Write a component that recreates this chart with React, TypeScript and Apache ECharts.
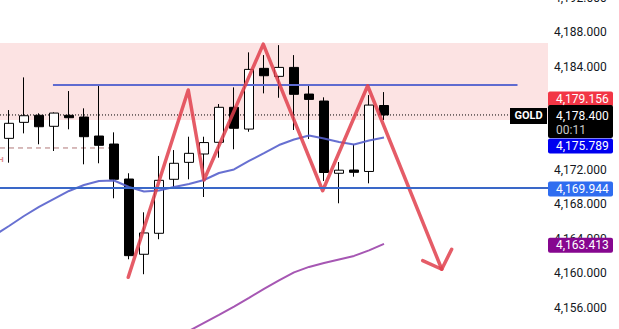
import React, { useEffect, useRef } from "react";
import * as echarts from "echarts";

// ---- data ----
const candleIdx = [0, 1, 2, 3, 4, 5, 6, 7, 8, 9, 10, 11, 12, 13, 14, 15, 16, 17, 18, 19, 20, 21, 22, 23, 24, 25];
const opens = [4175.68, 4177.54, 4178.36, 4177.08, 4178.36, 4178.16, 4175.95, 4175.02, 4170.95, 4162.2, 4164.64, 4170.92, 4172.89, 4173.86, 4175.22, 4179.29, 4176.76, 4183.82, 4182.89, 4183.93, 4180.83, 4180.02, 4171.62, 4172.0, 4171.83, 4179.5];
const closes = [4177.43, 4178.31, 4177.03, 4178.62, 4178.08, 4175.87, 4174.87, 4170.92, 4162.04, 4164.68, 4170.8, 4172.78, 4173.94, 4175.19, 4179.29, 4176.85, 4183.7, 4182.96, 4183.93, 4180.8, 4180.21, 4171.71, 4171.98, 4171.73, 4179.55, 4178.4];
const lows = [4172.85, 4176.26, 4174.99, 4174.21, 4176.73, 4172.66, 4172.78, 4168.71, 4161.62, 4159.88, 4163.95, 4169.94, 4170.92, 4168.86, 4173.43, 4174.41, 4176.45, 4180.91, 4180.4, 4176.65, 4175.6, 4170.72, 4168.13, 4171.22, 4170.45, 4177.81];
const highs = [4178.97, 4182.77, 4178.59, 4178.7, 4181.18, 4179.17, 4181.8, 4176.38, 4171.62, 4167.08, 4173.63, 4174.32, 4175.87, 4175.87, 4179.67, 4181.61, 4185.68, 4185.36, 4186.52, 4185.36, 4181.82, 4180.45, 4172.93, 4174.99, 4180.71, 4181.06];

const maFastIdx = [-1, 0, 1, 2, 3, 4, 5, 6, 7, 8, 9, 10, 11, 12, 13, 14, 15, 16, 17, 18, 19, 20, 21, 22, 23, 24, 25];
const maFast = [4164.38, 4165.49, 4166.65, 4167.7, 4168.63, 4169.56, 4170.26, 4170.72, 4170.78, 4170.02, 4169.5, 4169.62, 4170.02, 4170.37, 4170.84, 4171.65, 4172.06, 4173.05, 4173.97, 4174.9, 4175.54, 4176.01, 4175.66, 4175.25, 4174.96, 4175.43, 4175.789];

const maSlowIdx = [11, 12, 13, 14, 15, 16, 17, 18, 19, 20, 21, 22, 23, 24, 25];
const maSlow = [4152.36, 4153.29, 4154.22, 4155.15, 4156.12, 4157.13, 4158.17, 4159.16, 4160.09, 4160.73, 4161.19, 4161.6, 4162.01, 4162.65, 4163.413];

const zigzagIdx = [7.95, 11.95, 13.0, 16.95, 20.91, 23.91, 28.85];
const zigzagVal = [4159.53, 4181.3, 4170.84, 4186.64, 4169.59, 4181.8, 4160.46];
const arrowIdx = [27.58, 28.85, 29.51];
const arrowVal = [4161.46, 4160.46, 4162.79];

const resistanceIdx = [2.93, 33.9];
const resistanceVal = 4181.88;
const supportVal = 4169.944;
const zoneTop = 4186.76;
const zoneBottom = 4177.81;
const lastPrice = 4178.4;
const lastPriceEndIdx = 33.4;
const prevLevel = 4174.56;
const prevLevelEndIdx = 6.87;

const yTicks = [4152, 4156, 4160, 4164, 4168, 4172, 4176, 4180, 4184, 4188, 4192];
const hiddenTicks = [4152, 4176, 4180]; // covered by price tags / off-screen
const tagRed = 4179.156;
const tagBlue = 4175.789;
const tagSupport = 4169.944;
const tagPurple = 4163.413;
const symbolName = "GOLD";
const countdown = "00:11";

const X_MIN = -0.6;
const X_MAX = 35.933;

const fmt = (v: number) => {
  const s = v.toFixed(3);
  const [i, d] = s.split(".");
  return i.replace(/\B(?=(\d{3})+(?!\d))/g, ",") + "." + d;
};

const FONT = "Roboto, 'Noto Sans', sans-serif";

export default function App() {
  const ref = useRef<HTMLDivElement>(null);
  useEffect(() => {
    if (!ref.current) return;
    const chart = echarts.init(ref.current, undefined, { renderer: "svg" });
    const candles = candleIdx.map((x, k) => [x, opens[k], closes[k], lows[k], highs[k]]);
    const option: any = {
      animation: false,
      backgroundColor: "#ffffff",
      grid: { left: 0, right: 71, top: -2, bottom: -13, containLabel: false, outerBoundsMode: "none" },
      xAxis: { type: "value", min: X_MIN, max: X_MAX, show: false },
      yAxis: {
        type: "value",
        position: "right",
        min: yTicks[0],
        max: yTicks[yTicks.length - 1],
        interval: yTicks[1] - yTicks[0],
        axisLine: { show: false },
        axisTick: { show: false },
        splitLine: { show: false },
        axisLabel: {
          margin: 6,
          color: "#131722",
          fontSize: 12,
          fontFamily: FONT,
          formatter: (v: number) => (hiddenTicks.some((h) => Math.abs(h - v) < 1e-6) ? "" : fmt(v)),
        },
      },
      series: [
        {
          type: "line",
          z: 1,
          silent: true,
          symbol: "none",
          data: [[X_MIN, prevLevel], [prevLevelEndIdx, prevLevel]],
          lineStyle: { color: "#b07878", width: 1, type: [5, 4] },
          markArea: {
            silent: true,
            itemStyle: { color: "#fce3e3" },
            data: [[{ yAxis: zoneTop }, { yAxis: zoneBottom }]],
          },
        },
        {
          type: "line",
          z: 1,
          silent: true,
          symbol: "none",
          data: [[X_MIN, lastPrice], [lastPriceEndIdx, lastPrice]],
          lineStyle: { color: "#000000", width: 1, type: [1, 2] },
        },
        {
          type: "candlestick",
          z: 2,
          silent: true,
          barWidth: 10,
          data: candles,
          encode: { x: 0, y: [1, 2, 3, 4] },
          itemStyle: {
            color: "#ffffff",
            color0: "#000000",
            borderColor: "#000000",
            borderColor0: "#000000",
            borderWidth: 1,
          },
        },
        {
          type: "line",
          z: 3,
          silent: true,
          symbol: "none",
          data: maFastIdx.map((x, k) => [x, maFast[k]]),
          lineStyle: { color: "#5660cc", width: 2, opacity: 0.9 },
        },
        {
          type: "line",
          z: 3,
          silent: true,
          symbol: "none",
          data: maSlowIdx.map((x, k) => [x, maSlow[k]]),
          lineStyle: { color: "#a657b3", width: 2 },
        },
        {
          type: "line",
          z: 3,
          silent: true,
          symbol: "none",
          data: [[resistanceIdx[0], resistanceVal], [resistanceIdx[1], resistanceVal]],
          lineStyle: { color: "#5f6bd0", width: 2 },
          markLine: {
            silent: true,
            symbol: "none",
            label: { show: false },
            lineStyle: { color: "#3a68c8", width: 2, type: "solid" },
            data: [{ yAxis: supportVal }],
          },
        },
        {
          type: "line",
          z: 4,
          silent: true,
          symbol: "none",
          data: zigzagIdx.map((x, k) => [x, zigzagVal[k]]),
          lineStyle: { color: "#e0404c", width: 3.5, opacity: 0.85, cap: "round", join: "round" },
        },
        {
          type: "line",
          z: 4,
          silent: true,
          symbol: "none",
          data: arrowIdx.map((x, k) => [x, arrowVal[k]]),
          lineStyle: { color: "#e0404c", width: 3.5, opacity: 0.85, cap: "round", join: "round" },
        },
      ],
    };
    chart.setOption(option);
    const py = (v: number) => chart.convertToPixel({ yAxisIndex: 0 }, v) as number;
    const TAG_X = 548;
    const TAG_W = 65;
    const TAG_H = 15;
    const tag = (cy: number, fill: string, text: string) => [
      { type: "rect", z: 100, shape: { x: TAG_X, y: cy - TAG_H / 2, width: TAG_W, height: TAG_H, r: 2 }, style: { fill } },
      {
        type: "text",
        z: 101,
        x: 556,
        y: cy,
        style: { text, fill: "#ffffff", font: `12px ${FONT}`, verticalAlign: "middle" },
      },
    ];
    const yLast = py(lastPrice);
    const graphic: any[] = [
      ...tag(py(tagRed) - 9.4, "#f23645", fmt(tagRed)),
      { type: "rect", z: 100, shape: { x: TAG_X, y: yLast - 10, width: TAG_W, height: 33, r: 2 }, style: { fill: "#000000" } },
      { type: "text", z: 101, x: 556, y: yLast + 1.5, style: { text: fmt(lastPrice), fill: "#ffffff", font: `12px ${FONT}`, verticalAlign: "middle" } },
      { type: "text", z: 101, x: 556, y: yLast + 15, style: { text: countdown, fill: "#c8c8c8", font: `12px ${FONT}`, verticalAlign: "middle" } },
      ...tag(py(tagBlue) + 8.6, "#0000f0", fmt(tagBlue)),
      ...tag(py(tagSupport) + 1.3, "#2f6df0", fmt(tagSupport)),
      ...tag(py(tagPurple) + 1.5, "#86078f", fmt(tagPurple)),
      { type: "rect", z: 100, shape: { x: 510, y: yLast - 7, width: 37, height: 16 }, style: { fill: "#000000" } },
      { type: "text", z: 101, x: 528.5, y: yLast + 1, style: { text: symbolName, fill: "#ffffff", font: `bold 11px ${FONT}`, align: "center", verticalAlign: "middle" } },
      { type: "text", z: 101, x: -2, y: py(prevLevel) + 12, style: { text: "H", fill: "#e08a8a", font: `bold 8px ${FONT}`, verticalAlign: "middle" } },
    ];
    chart.setOption({ graphic });
    return () => chart.dispose();
  }, []);
  return <div ref={ref} style={{ position: "fixed", left: 0, top: 0, width: 619, height: 329 }} />;
}
